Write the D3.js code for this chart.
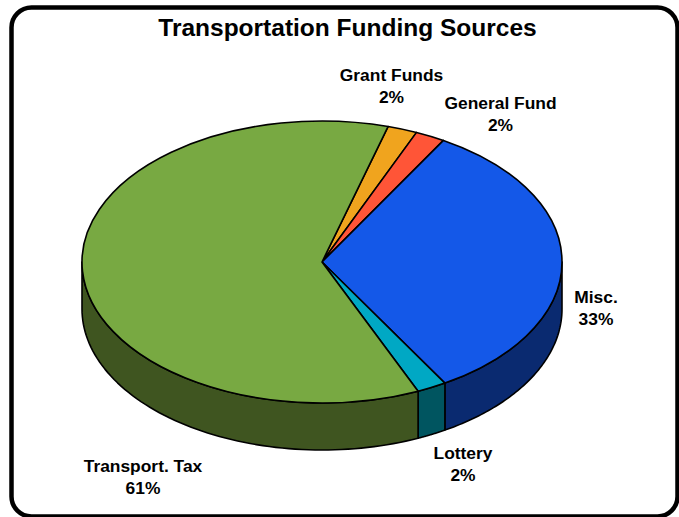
<!DOCTYPE html>
<html>
<head>
<meta charset="utf-8">
<script src="https://cdnjs.cloudflare.com/ajax/libs/d3/7.8.5/d3.min.js"></script>
<style>
html,body{margin:0;padding:0;background:#fff;overflow:hidden}
svg{display:block}
text{font-family:"Liberation Sans",Arial,sans-serif;font-weight:bold;fill:#000}
</style>
</head>
<body>
<svg id="chart" width="679" height="517"></svg>
<script>
// Funding shares in percent, clockwise from the Grant Funds slice
const categories = ["Grant Funds", "General Fund", "Misc.", "Lottery", "Transport. Tax"];
const shares = [2, 2, 33, 2, 61];
const topColors = ["#F0A41E", "#FF5537", "#1458E8", "#00A8C4", "#78A942"];
const wallColors = ["#7A5410", "#80291C", "#0A2A70", "#005560", "#3F5520"];
const labelAnchors = [[391.5, 80.5], [500.5, 109], [596, 303], [463, 459], [143, 472]];
const chartTitle = "Transportation Funding Sources";

const cx = 322, cy = 262, rx = 240, ry = 141, depth = 47;
const svg = d3.select("#chart");

// Outer rounded frame
svg.append("rect")
  .attr("x", 11.5).attr("y", 7.5)
  .attr("width", 666).attr("height", 509)
  .attr("rx", 20).attr("ry", 20)
  .attr("fill", "#fff").attr("stroke", "#000").attr("stroke-width", 4.5);

svg.append("text")
  .attr("x", 347.5).attr("y", 36)
  .attr("text-anchor", "middle")
  .attr("font-size", 24.5)
  .text(chartTitle);

const startAngle = 16 * Math.PI / 180;
const pie = d3.pie().sort(null).value(d => d)
  .startAngle(startAngle).endAngle(startAngle + 2 * Math.PI);
const slices = pie(shares);

// Tilted-disc projection of a rim angle
const px = a => cx + rx * Math.sin(a);
const py = (a, drop = 0) => cy - ry * Math.cos(a) + drop;

// Side walls: only the part of each slice's rim facing the viewer
const wall = svg.append("g");
const frontStart = Math.PI / 2, frontEnd = 3 * Math.PI / 2;
slices.forEach((s, i) => {
  const a0 = Math.max(s.startAngle, frontStart);
  const a1 = Math.min(s.endAngle, frontEnd);
  if (a1 <= a0) return;
  const steps = d3.range(0, 73).map(k => a0 + (a1 - a0) * k / 72);
  const upper = steps.map(a => [px(a), py(a)]);
  const lower = steps.slice().reverse().map(a => [px(a), py(a, depth)]);
  wall.append("path")
    .attr("d", d3.line()(upper.concat(lower)) + "Z")
    .attr("fill", wallColors[i])
    .attr("stroke", "#000").attr("stroke-width", 1.6)
    .attr("stroke-linejoin", "round");
});

// Top face: a circular pie squashed vertically into an ellipse
const arc = d3.arc().innerRadius(0).outerRadius(rx);
svg.append("g")
  .attr("transform", `translate(${cx},${cy}) scale(1,${ry / rx})`)
  .selectAll("path")
  .data(slices)
  .join("path")
  .attr("d", arc)
  .attr("fill", (d, i) => topColors[i])
  .attr("stroke", "#000").attr("stroke-width", 1.6)
  .attr("stroke-linejoin", "round")
  .attr("vector-effect", "non-scaling-stroke");

// Two-line labels: name above, percentage below
const labels = svg.append("g").selectAll("text")
  .data(categories)
  .join("text")
  .attr("text-anchor", "middle")
  .attr("font-size", 17.4);
labels.append("tspan")
  .attr("x", (d, i) => labelAnchors[i][0])
  .attr("y", (d, i) => labelAnchors[i][1])
  .text(d => d);
labels.append("tspan")
  .attr("x", (d, i) => labelAnchors[i][0])
  .attr("y", (d, i) => labelAnchors[i][1] + 22)
  .text((d, i) => shares[i] + "%");
</script>
</body>
</html>
